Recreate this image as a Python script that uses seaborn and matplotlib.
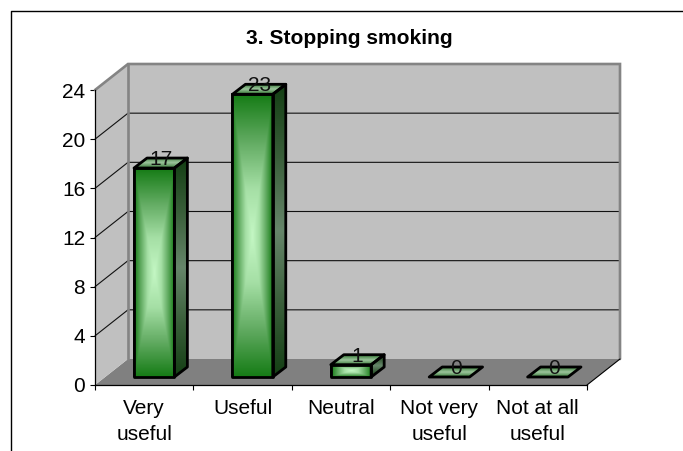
import numpy as np
import pandas as pd
import seaborn as sns
import matplotlib.pyplot as plt
from matplotlib.colors import LinearSegmentedColormap
from matplotlib.patches import Polygon

categories = ['Very\nuseful', 'Useful', 'Neutral', 'Not very\nuseful', 'Not at all\nuseful']
counts = [17, 23, 1, 0, 0]
y_ticks = [0, 4, 8, 12, 16, 20, 24]

sns.set_theme(style='white')
plt.rcParams['font.family'] = ['Liberation Sans', 'DejaVu Sans']

W, H = 683, 451
df = pd.DataFrame({'answer': categories, 'count': counts})


def px_axes(fig, left, top, right, bottom):
    return fig.add_axes([left / W, 1 - bottom / H, (right - left) / W, (bottom - top) / H])


fig = plt.figure(figsize=(W / 100, H / 100), dpi=100, facecolor='white')

# front plane of the fake 3d box, walls are drawn around it
ax = px_axes(fig, 95, 90, 587, 385)
ax.set_xlim(-0.5, 4.5)
ax.set_ylim(0, 24)
ax.patch.set_alpha(0)

# depth of the box and of the bars, in pixels
sx = 5 / 492
sy = 24 / 295
dx, dy = 33 * sx, 26 * sy
bdx, bdy = 13 * sx, 10 * sy

x0, x1 = ax.get_xlim()
y1 = ax.get_ylim()[1]

wall_grey = '#c0c0c0'
edge_grey = '#848484'
ax.add_patch(Polygon([(x0, 0), (x0 + dx, dy), (x1 + dx, dy), (x1, 0)], fc='#808080', ec='none', clip_on=False, zorder=1))
ax.add_patch(Polygon([(x0, 0), (x0 + dx, dy), (x0 + dx, y1 + dy), (x0, y1)], fc=wall_grey, ec='none', clip_on=False, zorder=1))
ax.add_patch(Polygon([(x0 + dx, dy), (x1 + dx, dy), (x1 + dx, y1 + dy), (x0 + dx, y1 + dy)], fc=wall_grey, ec='none', clip_on=False, zorder=1))

for t in y_ticks[1:-1]:
    ax.plot([x0, x0 + dx, x1 + dx], [t, t + dy, t + dy], color='#111111', lw=0.8, clip_on=False, zorder=2)

ax.plot([x0, x0 + dx, x1 + dx, x1 + dx], [y1, y1 + dy, y1 + dy, dy], color=edge_grey, lw=1.9, clip_on=False, zorder=2, solid_joinstyle='miter')
ax.plot([x0 + dx, x0 + dx], [dy, y1 + dy], color=edge_grey, lw=1.9, clip_on=False, zorder=2)
ax.plot([x1, x1 + dx], [0, dy], color='black', lw=0.8, clip_on=False, zorder=3)

sns.despine(ax=ax, top=True, right=True)
for side in ['left', 'bottom']:
    ax.spines[side].set_color('black')
    ax.spines[side].set_linewidth(0.9)
    ax.spines[side].set_zorder(3)

ax.set_yticks(y_ticks)
ax.set_xticks(np.arange(-0.5, 5))
ax.set_xticklabels([])
ax.tick_params(axis='both', which='major', direction='out', length=3.6, width=0.8, color='black', left=True, bottom=True, labelsize=15, labelcolor='black', pad=3.5)
for i, name in enumerate(categories):
    ax.annotate(name, (i, 0), xytext=(0, -10), textcoords='offset points', ha='center', va='top', fontsize=15, color='black', linespacing=1.5, annotation_clip=False)

# bars sit half way into the box, so they get their own shifted axes
bar_ax = px_axes(fig, 105, 82, 597, 377)
sns.barplot(data=df, x='answer', y='count', ax=bar_ax, color='#1a7a1a', width=0.41, saturation=1, edgecolor='black', linewidth=2, zorder=5)
bar_ax.set_xlim(-0.5, 4.5)
bar_ax.set_ylim(0, 24)
bar_ax.axis('off')
bar_ax.patch.set_alpha(0)

front_cmap = LinearSegmentedColormap.from_list('front', ['#c4f7c4', '#a5dfa5', '#62ab62', '#167c16'])
side_cmap = LinearSegmentedColormap.from_list('side', ['#66866a', '#3a5f3a', '#143f14'])
top_cmap = LinearSegmentedColormap.from_list('top', ['#9cc49c', '#6a9f6a', '#367a36'])

u, v = np.meshgrid(np.linspace(-1, 1, 80), np.linspace(-1, 1, 160))
rect_grad = np.maximum(np.abs(u), np.abs(v))
v_grad = np.abs(v)


def fill_grad(poly, grad, cmap, zorder):
    xs, ys = zip(*poly)
    patch = Polygon(poly, fc='none', ec='black', lw=2, clip_on=False, zorder=zorder + 0.5, joinstyle='round')
    bar_ax.add_patch(patch)
    im = bar_ax.imshow(grad, cmap=cmap, vmin=0, vmax=1, aspect='auto', extent=(min(xs), max(xs), min(ys), max(ys)), zorder=zorder, clip_on=True)
    im.set_clip_path(Polygon(poly, transform=bar_ax.transData))


for bar, value in zip(bar_ax.patches, counts):
    l, w = bar.get_x(), bar.get_width()
    r = l + w
    if value > 0:
        fill_grad([(l, 0), (r, 0), (r, value), (l, value)], rect_grad, front_cmap, 6)
        fill_grad([(r, 0), (r + bdx, bdy), (r + bdx, value + bdy), (r, value)], v_grad, side_cmap, 5.6)
    fill_grad([(l, value), (r, value), (r + bdx, value + bdy), (l + bdx, value + bdy)], v_grad, top_cmap, 5.8)
    bar_ax.annotate(str(value), (l + w / 2 + bdx / 2, value + bdy / 2), xytext=(0, 2.5), textcoords='offset points', ha='center', va='center', fontsize=15, color='#111111', zorder=9, annotation_clip=False)

bar_ax.set_xlim(-0.5, 4.5)
bar_ax.set_ylim(0, 24)

fig.text(349 / W, 1 - 38 / H, '3. Stopping smoking', ha='center', va='center', fontsize=15.1, fontweight='bold', color='black')

# page frame, only left and top are visible in the crop
fig.add_artist(plt.Line2D([10.5 / W, 10.5 / W, 1], [0, 1 - 10.5 / H, 1 - 10.5 / H], color='black', lw=1))

fig.savefig('out.png', dpi=100)
